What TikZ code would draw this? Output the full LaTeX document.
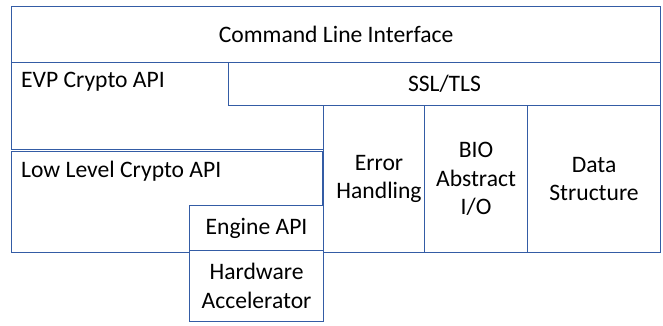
\documentclass[tikz,border=0pt]{standalone}
\usepackage{fontspec}
\setmainfont{Carlito}
\usepackage{xcolor}
\usepackage{tikz}
\usetikzlibrary{positioning}
\definecolor{layerblue}{RGB}{52,92,165}
\tikzset{layer-line/.style={draw=layerblue, line width=1.1pt}}
\tikzset{layer-text/.style={inner sep=0, font=\fontsize{23.6}{28.5}\selectfont, align=center}}
\tikzset{layer-box/.style={layer-line, layer-text, fill=white, anchor=north west}}

\begin{document}
\begin{tikzpicture}[x=1pt, y=-1pt]
            \useasboundingbox (0,0) rectangle (663,325);

            \node[layer-box, minimum width=649pt, minimum height=56pt] (cli) at (11,6) {Command Line Interface};

            \node[layer-box, minimum width=312pt, minimum height=87pt] (evp) at (11,62) {};
            \node[layer-box, minimum width=432pt, minimum height=43pt] (ssl) at (228,62) {SSL/TLS};

            \node[layer-box, minimum width=101pt, minimum height=147pt] (err) at (323,105) {};
            \node[layer-box, minimum width=103pt, minimum height=147pt] (bio) at (424,105) {BIO\\Abstract\\I/O};
            \node[layer-box, minimum width=133pt, minimum height=147pt] (data) at (527,105) {Data\\Structure};

            \node[layer-box, minimum width=311pt, minimum height=101pt] (low) at (11,151) {};

            \node[layer-box, minimum width=134pt, minimum height=45pt] (engine) at (189,205) {Engine API};
            \node[layer-box, minimum width=134pt, minimum height=71pt] (hw) at (189,250) {Hardware\\Accelerator};

            % labels sitting in the top left corners
            \node[layer-text, anchor=base west] (evp-label) at ([xshift=10pt, yshift=-25pt]evp.north west) {EVP Crypto API};
            \node[layer-text, anchor=base west] (low-label) at ([xshift=10pt, yshift=-26pt]low.north west) {Low Level Crypto API};
            \node[layer-text] (err-label) at ([xshift=5pt]err.center) {Error\\Handling};
        \end{tikzpicture}
\end{document}
